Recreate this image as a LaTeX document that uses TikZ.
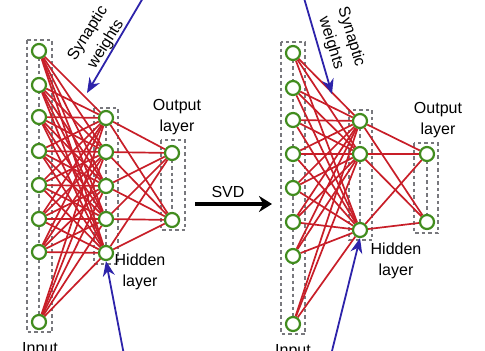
\documentclass[tikz,border=0pt]{standalone}
\usepackage{fontspec}
\setmainfont{Liberation Sans}
\usetikzlibrary{arrows.meta}
\definecolor{edgered}{RGB}{200,30,40}
\definecolor{nodegreen}{RGB}{65,140,30}
\definecolor{boxgray}{RGB}{120,120,125}
\definecolor{arrowblue}{RGB}{45,35,170}
\pgfdeclarelayer{bg}
\pgfsetlayers{bg,main}
\begin{document}
\begin{tikzpicture}[x=1pt,y=-1pt,
  neuron/.style={circle,draw=nodegreen,line width=2.2pt,fill=white,minimum size=14pt,inner sep=0pt},
  layerbox/.style={draw=boxgray,line width=1.3pt,dash pattern=on 3.5pt off 3pt},
  weight/.style={draw=edgered,line width=1.7pt},
  pointer/.style={draw=arrowblue,line width=1.8pt,-{Stealth[length=15pt,width=12pt]}},
  svdarrow/.style={draw=black,line width=3.5pt,-{Stealth[length=13pt,width=16pt]}},
  lbl/.style={font=\fontsize{16}{21}\selectfont,align=center,inner sep=0pt}]
\useasboundingbox (0,0) rectangle (485,351);

% left network nodes
\foreach \y [count=\i] in {51,85,117,151,185,219,252,322}
  \node[neuron] (li\i) at (39,\y) {};
\foreach \y [count=\i] in {118,152,186,219,253}
  \node[neuron] (lh\i) at (106,\y) {};
\foreach \y [count=\i] in {153,220}
  \node[neuron] (lo\i) at (172,\y) {};

% right network nodes
\foreach \y [count=\i] in {53,88,120,154,188,222,256,324}
  \node[neuron] (ri\i) at (293,\y) {};
\foreach \y [count=\i] in {121,154,230}
  \node[neuron] (rh\i) at (360,\y) {};
\foreach \y [count=\i] in {154,222}
  \node[neuron] (ro\i) at (427,\y) {};

\begin{pgfonlayer}{bg}
  % layer boxes
  \draw[layerbox] (27,40) rectangle (52,332);
  \draw[layerbox] (94,108) rectangle (118,264);
  \draw[layerbox] (161,140) rectangle (185,230);
  \draw[layerbox] (281,42) rectangle (305,334);
  \draw[layerbox] (349,110) rectangle (372,240);
  \draw[layerbox] (414,143) rectangle (438,233);
  \draw[layerbox] (li1.center) -- (li8.center);
  \draw[layerbox] (lh1.center) -- (lh5.center);
  \draw[layerbox] (lo1.center) -- (lo2.center);
  \draw[layerbox] (ri1.center) -- (ri8.center);
  \draw[layerbox] (rh1.center) -- (rh3.center);
  \draw[layerbox] (ro1.center) -- (ro2.center);
  % weights
  \foreach \i in {1,...,8}
    \foreach \j in {1,...,5}
      \draw[weight] (li\i) -- (lh\j);
  \foreach \i in {1,...,5}
    \foreach \j in {1,2}
      \draw[weight] (lh\i) -- (lo\j);
  \foreach \i in {1,...,8}
    \foreach \j in {1,2,3}
      \draw[weight] (ri\i) -- (rh\j);
  \foreach \i in {1,2,3}
    \foreach \j in {1,2}
      \draw[weight] (rh\i) -- (ro\j);
\end{pgfonlayer}

% labels
\node[lbl] (lout) at (177,117) {Output\\layer};
\node[lbl] (lhid) at (140,272) {Hidden\\layer};
\node[lbl,anchor=north] (linp) at (40,342) {Input};
\node[lbl] (rout) at (438,120) {Output\\layer};
\node[lbl] (rhid) at (396,261) {Hidden\\layer};
\node[lbl,anchor=north] (rinp) at (293,344) {Input};
\node[lbl,rotate=58] (lsyn) at (97,39) {Synaptic\\weights};
\node[lbl,rotate=-73] (rsyn) at (341,40) {Synaptic\\weights};

% SVD arrow
\coordinate (svdA) at (195,204);
\coordinate (svdB) at (272,204);
\draw[svdarrow] (svdA) -- (svdB);
\node[lbl] (svd) at (228,192) {SVD};

% blue pointers
\coordinate (ptA) at (143,-2);
\coordinate (ptB) at (124,355);
\coordinate (ptC) at (304,-2);
\coordinate (ptD) at (331,355);
\draw[pointer] (ptA) -- (87,93);
\draw[pointer] (ptB) -- (lh5.south);
\draw[pointer] (ptC) -- (332,94);
\draw[pointer] (ptD) -- (rh3.south);
\end{tikzpicture}
\end{document}
